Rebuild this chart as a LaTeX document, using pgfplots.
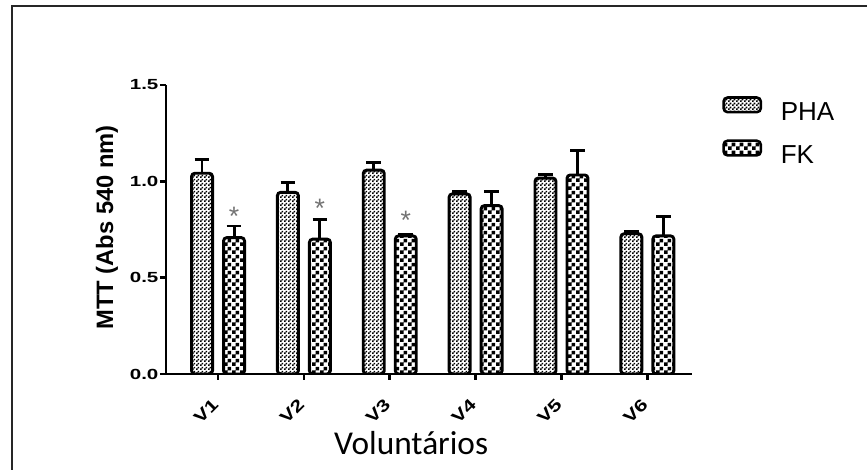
\documentclass[border=0pt]{standalone}
\usepackage{fontspec}
\usepackage{graphicx}
\setmainfont{Liberation Sans}
\newfontfamily\calibri{Carlito}
\usepackage{pgfplots}
\pgfplotsset{compat=1.18}
\usetikzlibrary{patterns}
\pgfdeclarepatternformonly{finecheck}{\pgfpointorigin}{\pgfpoint{3pt}{3pt}}{\pgfpoint{3pt}{3pt}}{%
  \pgfpathrectangle{\pgfpointorigin}{\pgfpoint{1.5pt}{1.5pt}}%
  \pgfpathrectangle{\pgfpoint{1.5pt}{1.5pt}}{\pgfpoint{1.5pt}{1.5pt}}%
  \pgfusepath{fill}}
\pgfdeclarepatternformonly{bigcheck}{\pgfpointorigin}{\pgfpoint{6pt}{6pt}}{\pgfpoint{6pt}{6pt}}{%
  \pgfpathrectangle{\pgfpointorigin}{\pgfpoint{3pt}{3pt}}%
  \pgfpathrectangle{\pgfpoint{3pt}{3pt}}{\pgfpoint{3pt}{3pt}}%
  \pgfusepath{fill}}
\definecolor{stargray}{RGB}{115,115,115}
\newcommand{\tl}[1]{\scalebox{1.4}[1]{\fontsize{11}{13}\selectfont\bfseries #1}}
\newcommand{\xl}[1]{\scalebox{1.3}[1]{\fontsize{12.5}{14}\selectfont\bfseries #1}}
\begin{document}
\begin{tikzpicture}
\begin{axis}[
  at={(0,0)}, anchor=south west,
  scale only axis, width=394.5pt, height=216.75pt,
  xmin=-0.606, xmax=5.52, ymin=0, ymax=1.5,
  axis lines=left, axis line style={-, line width=2pt},
  every tick/.style={black, line width=2pt},
  tick align=outside, major tick length=4.5pt,
  xtick={0,1,2,3,4,5}, xticklabels={\xl{V1},\xl{V2},\xl{V3},\xl{V4},\xl{V5},\xl{V6}},
  ytick={0,0.5,1,1.5}, yticklabels={\tl{0.0},\tl{0.5},\tl{1.0},\tl{1.5}},
  yticklabel style={inner sep=1pt},
  xticklabel style={xshift=-5pt, yshift=-13pt, rotate=45, anchor=north east, inner sep=0pt},
  ylabel={MTT (Abs 540 nm)},
  ylabel style={font=\bfseries\fontsize{17.8}{20}\selectfont, at={(axis description cs:-0.112,0.507)}, anchor=center, rotate=0},
  xlabel={Voluntários},
  xlabel style={font=\calibri\fontsize{25}{28}\selectfont, at={(axis description cs:0.466,-0.280)}, anchor=base},
  ybar=8.25pt, bar width=15.75pt,
  legend style={draw=none, fill=none, at={(axis description cs:1.057,0.962)}, anchor=north west,
    inner sep=0pt, row sep=13pt, column sep=14pt,
    font=\fontsize{19.5}{21}\selectfont, nodes={inner sep=0pt}},
  legend cell align=left,
]
\addplot[draw=black, line width=2.2pt, pattern=finecheck, rounded corners=2.5pt,
  legend image code/.code={\draw[draw=black, line width=1.9pt, pattern=finecheck, rounded corners=3pt] (0pt,0pt) rectangle (28pt,11pt);},
  error bars/.cd, y dir=plus, y explicit,
  error bar style={line width=2.2pt, black, rounded corners=0pt},
  error mark options={rotate=90, mark size=5.5pt, line width=2.2pt, black}]
  coordinates {
  (0,1.042) +- (0,0.07)
  (1,0.943) +- (0,0.05)
  (2,1.058) +- (0,0.04)
  (3,0.935) +- (0,0.01)
  (4,1.017) +- (0,0.02)
  (5,0.728) +- (0,0.012)
  };
\addplot[draw=black, line width=2.2pt, pattern=bigcheck, rounded corners=2.5pt,
  legend image code/.code={\draw[draw=black, line width=1.9pt, pattern=bigcheck, rounded corners=3pt] (0pt,0pt) rectangle (28pt,11pt);},
  error bars/.cd, y dir=plus, y explicit,
  error bar style={line width=2.2pt, black, rounded corners=0pt},
  error mark options={rotate=90, mark size=5.5pt, line width=2.2pt, black}]
  coordinates {
  (0,0.708) +- (0,0.06)
  (1,0.700) +- (0,0.10)
  (2,0.717) +- (0,0.005)
  (3,0.874) +- (0,0.075)
  (4,1.033) +- (0,0.125)
  (5,0.717) +- (0,0.10)
  };
\legend{PHA,FK}
\node[text=stargray, font=\fontsize{20}{20}\selectfont, inner sep=0pt, yshift=-4.2pt] at (axis cs:0.186,0.847) {*};
\node[text=stargray, font=\fontsize{20}{20}\selectfont, inner sep=0pt, yshift=-4.2pt] at (axis cs:1.186,0.889) {*};
\node[text=stargray, font=\fontsize{20}{20}\selectfont, inner sep=0pt, yshift=-4.2pt] at (axis cs:2.186,0.825) {*};
\end{axis}
\draw[line width=2.2pt, black!85] (-115.5pt,-80pt) -- (-115.5pt,276pt) -- (540pt,276pt);
\pgfresetboundingbox
\useasboundingbox (-124.5pt,-72pt) rectangle (525.75pt,280.5pt);
\end{tikzpicture}
\end{document}
